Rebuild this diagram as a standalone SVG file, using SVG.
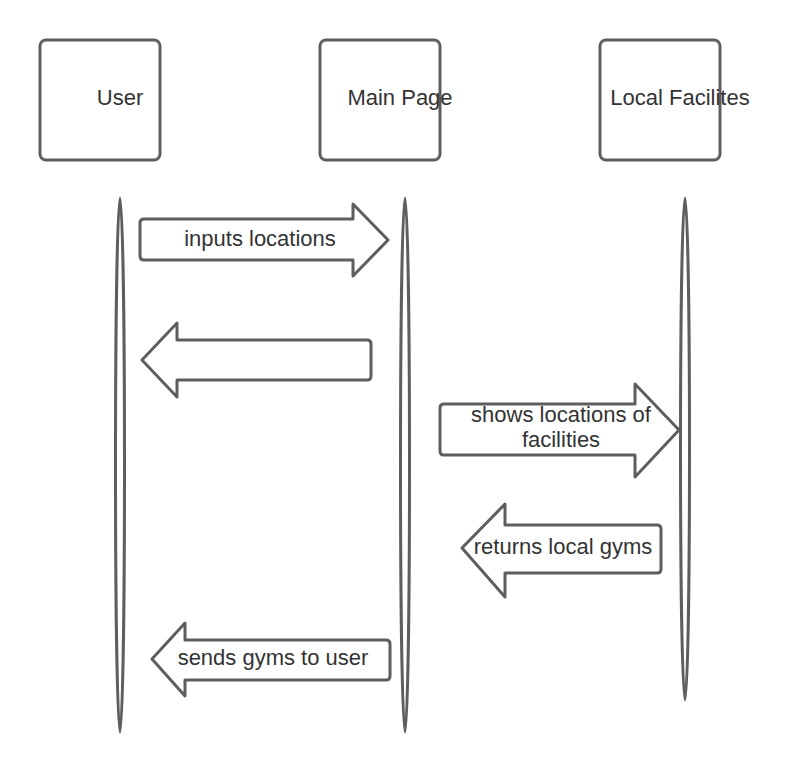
<svg xmlns="http://www.w3.org/2000/svg" width="800" height="770" viewBox="0 0 800 770">
<style>
.box{fill:#fff;stroke:#5e5e5e;stroke-width:3}
.life{fill:#fff;stroke:#5e5e5e;stroke-width:3}
.arr{fill:#fff;stroke:#5e5e5e;stroke-width:3;stroke-linejoin:round}
text{font-family:"Liberation Sans",Arial,sans-serif;font-size:22px;fill:#333;text-anchor:middle}
</style>
<rect width="800" height="770" fill="#fff"/>
<g id="node-user">
<rect class="box" x="40" y="40" width="120" height="120" rx="6"/>
<text x="120" y="105">User</text>
</g>
<g id="node-main">
<rect class="box" x="320" y="40" width="120" height="120" rx="6"/>
<text x="400" y="105">Main Page</text>
</g>
<g id="node-local">
<rect class="box" x="600" y="40" width="120" height="120" rx="6"/>
<text x="680" y="105">Local Facilites</text>
</g>
<g id="lifelines">
<ellipse class="life" cx="120" cy="465" rx="4.5" ry="267"/>
<ellipse class="life" cx="405" cy="465" rx="4.5" ry="267"/>
<ellipse class="life" cx="685" cy="449" rx="4.5" ry="251"/>
</g>
<g id="connectors">
<g id="msg1">
<path class="arr" d="M144,219 H353 V204 L388,240 L353,276 V260 H144 Q140,260 140,256 V223 Q140,219 144,219 Z"/>
<text x="260" y="246">inputs locations</text>
</g>
<g id="msg2">
<path class="arr" d="M367,340 H177 V323 L142,360 L177,397 V380 H367 Q371,380 371,376 V344 Q371,340 367,340 Z"/>
</g>
<g id="msg3">
<path class="arr" d="M444,404 H635 V384 L679,430 L635,477 V455 H444 Q440,455 440,451 V408 Q440,404 444,404 Z"/>
<text x="561" y="422">shows locations of</text>
<text x="561" y="447">facilities</text>
</g>
<g id="msg4">
<path class="arr" d="M657,525 H505 V504 L462,548 L505,597 V573 H657 Q661,573 661,569 V529 Q661,525 657,525 Z"/>
<text x="563" y="554">returns local gyms</text>
</g>
<g id="msg5">
<path class="arr" d="M386,640 H185 V623 L152,659 L185,696 V680 H386 Q390,680 390,676 V644 Q390,640 386,640 Z"/>
<text x="273" y="665">sends gyms to user</text>
</g>
</g>
</svg>
